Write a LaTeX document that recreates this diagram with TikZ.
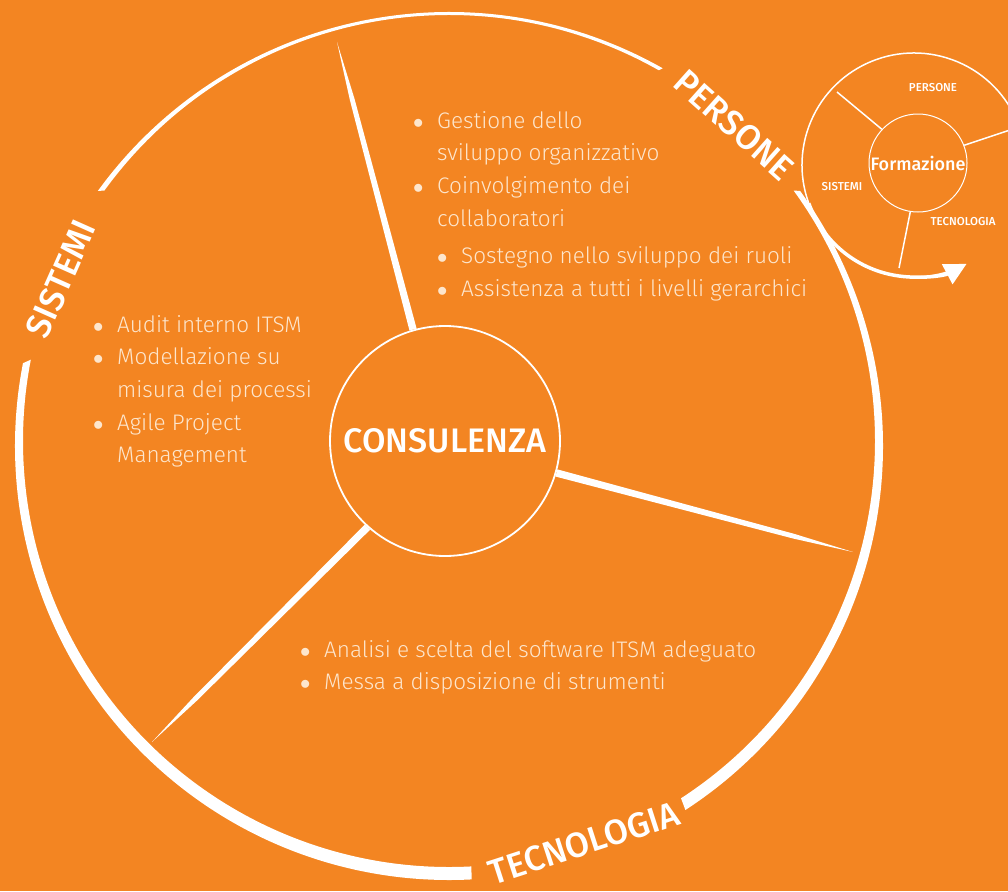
\documentclass[tikz,border=0pt]{standalone}
\usepackage{fontspec}
\setmainfont{Fira Sans}
\IfFontExistsTF{Fira Sans Light}{\newfontfamily\lightfont{Fira Sans Light}}{\newfontfamily\lightfont{Fira Sans}}
\IfFontExistsTF{Fira Sans Medium}{\newfontfamily\medfont{Fira Sans Medium}}{\newfontfamily\medfont{Fira Sans}}
\usetikzlibrary{calc,arrows.meta}

\definecolor{bgorange}{RGB}{243,133,34}
\definecolor{cream}{RGB}{253,230,205}

\tikzset{
	bullets/.style={anchor=north west, inner sep=0pt, align=left, text=cream, font=\lightfont\fontsize{22.5}{32.7}\selectfont},
	ringlabel/.style={text=white, inner sep=0pt, font=\medfont\fontsize{35}{35}\selectfont},
	smalllabel/.style={text=white, inner sep=0pt, font=\medfont\fontsize{11.5}{12}\selectfont}
}
\newcommand{\bul}{\makebox[24pt][l]{\(\bullet\)}}
\newcommand{\ind}{\hspace*{24pt}}

\begin{document}
\begin{tikzpicture}[x=1pt,y=-1pt]
	\fill[bgorange] (0,0) rectangle (1008,891);
	\useasboundingbox (0,0) rectangle (1008,891);

	% big ring, thin on top, thick at the bottom
	\coordinate (O) at (449,446);
	\coordinate (I) at (449,441);
	\fill[white] ($(O)+(-60.5:434)$) arc[start angle=-60.5, end angle=-144, radius=434]
		-- ($(I)+(-144:426)$) arc[start angle=-144, end angle=-60.5, radius=426] -- cycle;
	\fill[white] ($(O)+(-169:434)$) arc[start angle=-169, end angle=-273, radius=434]
		-- ($(I)+(-273:426)$) arc[start angle=-273, end angle=-169, radius=426] -- cycle;
	\fill[white] ($(O)+(57:434)$) arc[start angle=57, end angle=-36, radius=434]
		-- ($(I)+(-36:426)$) arc[start angle=-36, end angle=57, radius=426] -- cycle;

	\node[ringlabel, rotate=66] (sistemi) at (61,279) {SISTEMI};
	\node[ringlabel, rotate=-41.75] (persone) at (734,125) {PERSONE};
	\node[ringlabel, rotate=18] (tecnologia) at (584,843) {TECNOLOGIA};

	% centre
	\node (consulenza) at (445,441) [circle, draw=white, line width=1.8pt, minimum size=230pt, inner sep=0pt, text=white, font=\medfont\fontsize{34}{34}\selectfont] {CONSULENZA};

	\coordinate (tipP) at (337,42);
	\coordinate (tipT) at (853,552);
	\coordinate (tipS) at (152,742);
	\foreach \a/\t in {106/tipP, -16/tipT, 228/tipS}
		\fill[white] ($(consulenza.\a)!3.7pt!90:(\t)$) -- ($(consulenza.\a)!0.8!(\t)!2.4pt!90:(\t)$) -- (\t)
			-- ($(consulenza.\a)!0.8!(\t)!2.4pt!-90:(\t)$) -- ($(consulenza.\a)!3.7pt!-90:(\t)$) -- cycle;

	% texts
	\node[bullets] (listP) at (413,111) {\bul Gestione dello\\
		\ind sviluppo organizzativo\\
		\bul Coinvolgimento dei\\
		\ind collaboratori\\[5pt]
		\ind\bul Sostegno nello sviluppo dei ruoli\\
		\ind\bul Assistenza a tutti i livelli gerarchici};
	\node[bullets] (listS) at (93,315) {\bul Audit interno ITSM\\
		\bul Modellazione su\\
		\ind misura dei processi\\
		\bul Agile Project\\
		\ind Management};
	\node[bullets] (listT) at (300,640) {\bul Analisi e scelta del software ITSM adeguato\\
		\bul Messa a disposizione di strumenti};

	% small cycle
	\node (formazione) at (918,163) [circle, draw=white, line width=1pt, minimum size=98pt, inner sep=0pt, text=white, font=\medfont\fontsize{18}{18}\selectfont] {Formazione};
	\coordinate (F) at (914,165);
	\draw[white, line width=1.5pt] ($(F)+(20:112)$) arc[start angle=20, end angle=-290, radius=112];
	\draw[white, line width=3.5pt, -{Triangle[length=22pt, width=22pt]}] ($(F)+(-200:112)$) arc[start angle=-200, end angle=-298, radius=112];
	\coordinate (s1) at (837,92);
	\coordinate (s2) at (1022,126);
	\coordinate (s3) at (899,268);
	\draw[white, line width=1.5pt] (formazione.137) -- (s1);
	\draw[white, line width=1.5pt] (formazione.21) -- (s2);
	\draw[white, line width=1.5pt] (formazione.-99) -- (s3);
	\node[smalllabel] (sPersone) at (933,88) {PERSONE};
	\node[smalllabel] (sSistemi) at (842,187) {SISTEMI};
	\node[smalllabel] (sTecnologia) at (963,222) {TECNOLOGIA};
\end{tikzpicture}
\end{document}
